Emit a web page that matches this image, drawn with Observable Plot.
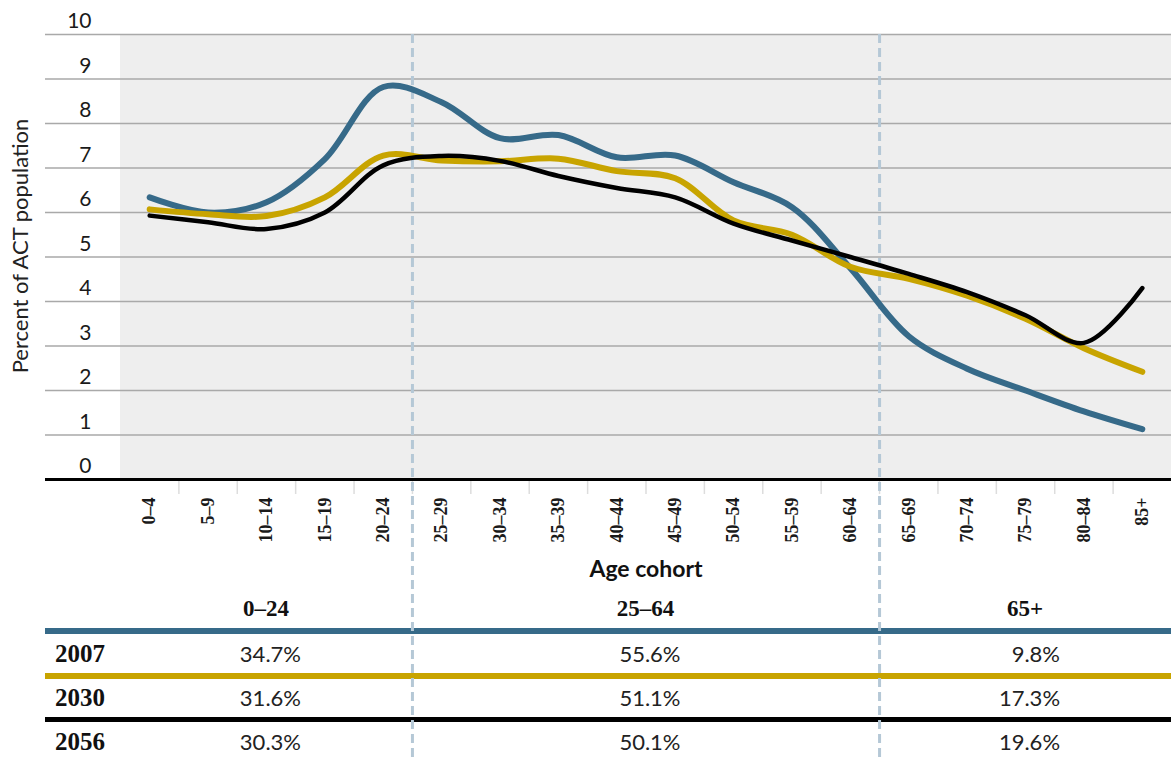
<!DOCTYPE html>
<html>
<head>
<meta charset="utf-8">
<script src="https://cdn.jsdelivr.net/npm/d3@7"></script>
<script src="https://cdn.jsdelivr.net/npm/@observablehq/plot@0.6"></script>
<style>
  html, body { margin: 0; padding: 0; background: #fff; }
  #wrap { position: relative; width: 1171px; height: 761px; overflow: hidden; }
  #tbl { position: absolute; left: 0; top: 590px; width: 1171px; z-index: 0; }
  #chart { position: absolute; left: 0; top: 0; z-index: 1; pointer-events: none; }
  .row { position: relative; margin-left: 45px; width: 1126px; box-sizing: border-box; }
  .cell { position: absolute; top: 0; white-space: nowrap; }
  .yr { font-family: "Liberation Serif", "Times New Roman", serif; font-weight: bold; font-size: 25px; color: #111; }
  .hd { font-family: "Liberation Serif", "Times New Roman", serif; font-weight: bold; font-size: 23px; color: #111; text-align: center; }
  .val { font-family: Lato, "Open Sans", sans-serif; font-size: 22px; color: #222; text-align: right; }
</style>
</head>
<body>
<div id="wrap"><div id="tbl"></div><div id="chart"></div></div>
<script>
// ---------- data ----------
const cohorts = ["0–4","5–9","10–14","15–19","20–24","25–29","30–34","35–39","40–44","45–49","50–54","55–59","60–64","65–69","70–74","75–79","80–84","85+"];
const years = ["2007", "2030", "2056"];
const colors = ["#366a89", "#c8a400", "#000000"];
const values2007 = [6.34, 6.00, 6.23, 7.20, 8.82, 8.48, 7.67, 7.74, 7.24, 7.28, 6.68, 6.12, 4.75, 3.22, 2.49, 2.00, 1.53, 1.13];
const values2030 = [6.07, 5.96, 5.92, 6.34, 7.28, 7.17, 7.15, 7.21, 6.93, 6.77, 5.82, 5.50, 4.78, 4.51, 4.13, 3.61, 2.95, 2.42];
const values2056 = [5.93, 5.78, 5.63, 6.00, 7.06, 7.27, 7.16, 6.82, 6.55, 6.34, 5.75, 5.37, 5.00, 4.62, 4.21, 3.69, 3.07, 4.30];
const yTicks = [0, 1, 2, 3, 4, 5, 6, 7, 8, 9, 10];
const groups = ["0–24", "25–64", "65+"];
const groupFirst = ["0–4", "25–29", "65–69"];
const groupLast = ["20–24", "60–64", "85+"];
const shares2007 = ["34.7%", "55.6%", "9.8%"];
const shares2030 = ["31.6%", "51.1%", "17.3%"];
const shares2056 = ["30.3%", "50.1%", "19.6%"];
const yLabel = "Percent of ACT population";
const xLabel = "Age cohort";

const seriesValues = [values2007, values2030, values2056];
const seriesShares = [shares2007, shares2030, shares2056];
const lineWidths = [6, 6, 4.5];

const data = years.flatMap((yr, k) => cohorts.map((c, i) => ({year: yr, cohort: c, value: seriesValues[k][i]})));

// ---------- chart ----------
const W = 1171, H = 761, plotLeft = 120, baseY = 479;
const bw = (W - plotLeft) / cohorts.length;

const plot = Plot.plot({
  width: W,
  height: H,
  marginTop: 34,
  marginBottom: H - baseY,
  marginLeft: 45,
  marginRight: 0,
  style: {background: "transparent", fontFamily: "Lato, sans-serif", color: "#1a1a1a", overflow: "visible"},
  x: {type: "band", domain: cohorts, range: [plotLeft, W], padding: 0, round: false},
  y: {domain: [0, 10]},
  marks: [
    Plot.barY(cohorts, {x: d => d, y1: 0, y2: 10, fill: "#eeeeee", shapeRendering: "crispEdges"}),
    Plot.gridY({ticks: yTicks.slice(1), stroke: "#a9a9a9", strokeOpacity: 1, strokeWidth: 1.5}),
    Plot.axisY({ticks: yTicks, tickSize: 0, dx: 55, dy: -13, fontSize: 21, label: null, tickFormat: d => String(d)}),
    Plot.axisX({ticks: cohorts.slice(1), tickSize: 15, tickFormat: () => "", dx: -bw / 2, stroke: "#dddddd", strokeWidth: 1.5, label: null}),
    Plot.axisX({tickSize: 0, tickPadding: 18, tickRotate: -90, fontFamily: "'Liberation Serif', 'Times New Roman', serif", fontWeight: "bold", fontSize: 18, label: null}),
    Plot.ruleX(groupFirst.slice(1), {dx: -bw / 2, stroke: "#b5c8d6", strokeWidth: 3, strokeDasharray: "9,5", insetBottom: -(H - baseY)}),
    ...years.map((yr, k) => Plot.line(data.filter(d => d.year === yr), {
      x: "cohort", y: "value", stroke: colors[k], strokeWidth: lineWidths[k], curve: "catmull-rom"
    })),
    Plot.ruleY([0], {stroke: "#000", strokeWidth: 3}),
    Plot.text([yLabel], {frameAnchor: "left", textAnchor: "middle", rotate: -90, dx: -25, dy: -11, fontSize: 22, fill: "#222"}),
    Plot.text([xLabel], {x: () => cohorts[8], dx: bw / 2, frameAnchor: "bottom", dy: 97, fontWeight: "bold", fontSize: 23, fill: "#111"})
  ]
});
document.getElementById("chart").appendChild(plot);

// ---------- table (aligned to the chart's x scale) ----------
const xs = plot.scale("x");
const step = xs.bandwidth;
const r0 = xs.range[0];
const bandStart = c => r0 + xs.domain.indexOf(c) * step;
const spans = groups.map((g, i) => [bandStart(groupFirst[i]), bandStart(groupLast[i]) + step]);
const rowLeft = 45;

const tbl = document.getElementById("tbl");
const rowGeom = [
  {h: 38, border: 0, color: null},
  {h: 45, border: 6, color: colors[0]},
  {h: 44, border: 6, color: colors[1]},
  {h: 44, border: 5, color: colors[2]}
];
rowGeom.forEach((g, r) => {
  const row = document.createElement("div");
  row.className = "row";
  row.style.height = g.h + "px";
  if (g.border) row.style.borderTop = `${g.border}px solid ${g.color}`;
  const lh = (g.h - g.border) + "px";
  if (r === 0) {
    groups.forEach((name, i) => {
      const c = document.createElement("div");
      c.className = "cell hd";
      c.style.left = (spans[i][0] - rowLeft) + "px";
      c.style.width = (spans[i][1] - spans[i][0]) + "px";
      c.style.lineHeight = lh;
      c.textContent = name;
      row.appendChild(c);
    });
  } else {
    const y = document.createElement("div");
    y.className = "cell yr";
    y.style.left = "10px";
    y.style.lineHeight = lh;
    y.textContent = years[r - 1];
    row.appendChild(y);
    seriesShares[r - 1].forEach((v, i) => {
      const c = document.createElement("div");
      c.className = "cell val";
      const center = (spans[i][0] + spans[i][1]) / 2;
      c.style.left = (spans[i][0] - rowLeft) + "px";
      c.style.width = (center + 35 - spans[i][0]) + "px";
      c.style.lineHeight = lh;
      c.textContent = v;
      row.appendChild(c);
    });
  }
  tbl.appendChild(row);
});
</script>
</body>
</html>
